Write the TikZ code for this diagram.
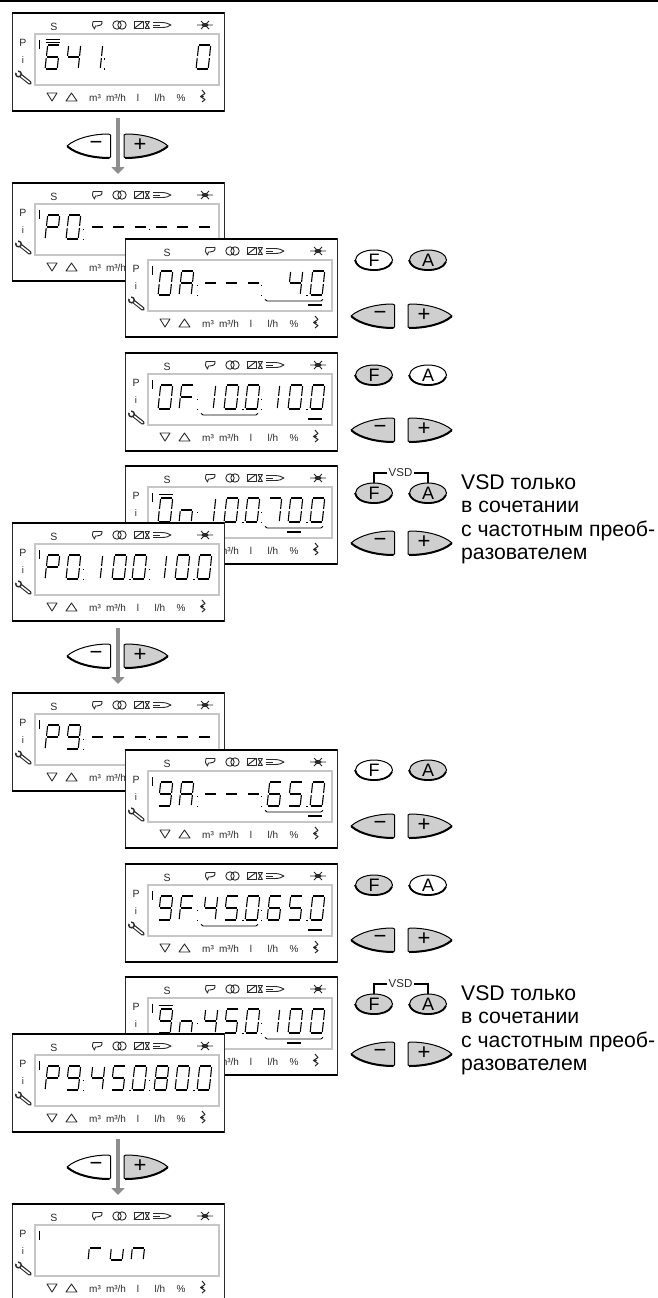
\documentclass[tikz,border=0pt]{standalone}
\usepackage{fontspec}
\setmainfont{Liberation Sans}
\usetikzlibrary{arrows.meta,shapes.geometric}
\definecolor{lcdgray}{HTML}{C6C6C6}
\definecolor{keygray}{HTML}{CFCFCF}
\definecolor{flowgray}{HTML}{8E8E8E}
\definecolor{ink}{HTML}{2A2A2A}
\tikzset{
  segline/.style={line width=1.1pt,line cap=butt,color=black},
  panelbody/.style={rectangle,fill=white,draw=none,inner sep=0pt,outer sep=0pt,minimum width=212pt,minimum height=100pt,anchor=north west},
  labelS/.style={inner sep=0pt,text=ink,font=\fontsize{10.5}{10.5}\selectfont},
  labelU/.style={inner sep=0pt,text=ink,font=\fontsize{10}{10}\selectfont},
  iconline/.style={line width=.9pt,color=ink,line join=round},
  flowarrow/.style={line width=4.5pt,color=flowgray,-{Triangle[length=7pt,width=13pt]},shorten <=6pt,shorten >=8pt},
  keyshape/.style={line width=1pt,color=black,line join=round},
  ovalkey/.style={ellipse,draw=black,line width=1pt,minimum width=37pt,minimum height=20pt,inner sep=0pt,font=\fontsize{18}{18}\selectfont},
  keysign/.style={inner sep=0pt,font=\fontsize{22}{22}\selectfont},
  sidenote/.style={inner sep=0pt,anchor=north west,align=left,font=\fontsize{21.2}{23.5}\selectfont},
}
\def\sgA{\draw[segline] (3,0)--(14,0);}
\def\sgB{\draw[segline] (14.6,1)--(13.6,11);}
\def\sgC{\draw[segline] (13.4,13)--(12.3,23);}
\def\sgD{\draw[segline] (1,24)--(12,24);}
\def\sgE{\draw[segline] (1.2,13)--(0.2,23);}
\def\sgF{\draw[segline] (2.6,1)--(1.5,11);}
\def\sgG{\draw[segline] (2,12)--(12.5,12);}
\expandafter\def\csname smap0\endcsname{A,B,C,D,E,F}
\expandafter\def\csname smap1\endcsname{B,C}
\expandafter\def\csname smap4\endcsname{B,C,F,G}
\expandafter\def\csname smap5\endcsname{A,C,D,F,G}
\expandafter\def\csname smap6\endcsname{A,C,D,E,F,G}
\expandafter\def\csname smap7\endcsname{A,B,C}
\expandafter\def\csname smap8\endcsname{A,B,C,D,E,F,G}
\expandafter\def\csname smap9\endcsname{A,B,C,D,F,G}
\expandafter\def\csname smapA\endcsname{A,B,C,E,F,G}
\expandafter\def\csname smapF\endcsname{A,E,F,G}
\expandafter\def\csname smapP\endcsname{A,B,E,F,G}
\expandafter\def\csname smapn\endcsname{C,E,G}
\expandafter\def\csname smapr\endcsname{E,G}
\expandafter\def\csname smapu\endcsname{C,D,E}
\expandafter\def\csname smap-\endcsname{G}
\newcommand\sdig[2]{\begin{scope}[shift={(#1,33)}]\edef\smaplist{\csname smap#2\endcsname}\foreach \segm in \smaplist {\csname sg\segm\endcsname}\end{scope}}
\newcommand\scol[1]{\fill (#1,46.5) rectangle ++(1.4,1.4); \fill (#1,56.5) rectangle ++(1.4,1.4);}
\newcommand\sdot[1]{\fill (#1,56.5) rectangle ++(1.6,1.6);}
\newcommand\sbar[2]{\draw[line width=1pt] (33.5,#2)--(48,#2);}
\newcommand\sulong[2]{\draw[line width=.9pt] (#1,61.3) .. controls (#1+.3,62.7) and (#1+1,63) .. (#1+2,63) -- (#2-2,63) .. controls (#2-1,63) and (#2-.3,62.7) .. (#2,61.3);}
\newcommand\sushort[1]{\draw[line width=1.1pt] (#1,67)--(#1+14,67);}
\newcommand\lcdpanel[4]{%
 \node[panelbody] (#1) at (#2,#3) {};
 \begin{scope}[shift={(#2,#3)}]
  \draw[line width=.8pt,color=ink] (0,0)--(0,100);
  \draw[line width=.8pt,color=ink] (212,0)--(212,100);
  \draw[line width=2pt] (-.4,1)--(212.4,1);
  \draw[line width=2pt] (-.4,99)--(212.4,99);
  \draw[color=lcdgray,line width=1.5pt] (23,22) rectangle (207,73);
  \node[labelS] (#1s) at (42,15) {S};
  \node[labelS] (#1p) at (11,31) {P};
  \node[labelS,font=\fontsize{9.5}{9.5}\selectfont] (#1i) at (11,48) {i};
  % burner
  \draw[iconline] (81,9.5) -- (90,9.5) .. controls (90.5,13) and (88,14) .. (85,14) -- (83.5,14) -- (82.5,17) .. controls (80,15) and (80,12) .. (81,9.5);
  % rings
  \draw[iconline] (105,13) circle (4.2); \draw[iconline] (110,13) circle (4.2);
  % damper
  \draw[iconline] (122,9.5) rectangle (131,16.5); \draw[iconline] (122,16.5)--(131,9.5);
  \draw[iconline] (133,9.5)--(137.5,9.5) (133,16.5)--(137.5,16.5) (133,9.5)--(137.5,16.5) (137.5,9.5)--(133,16.5);
  % flame
  \draw[iconline] (141,10.5) -- (150,10.5) .. controls (154,10.5) and (157,12) .. (159,13) .. controls (157,14.5) and (154,15.5) .. (150,15.5) -- (141,15.5);
  \draw[iconline] (141,13)--(148,13);
  % fan
  \draw[iconline] (185,13)--(201,13) (189,9)--(197,17) (197,9)--(189,17);
  \fill[ink] (193,13) ellipse (3.5 and 2);
  % wrench
  \draw[line width=3.8pt,color=ink,line cap=round] (8,63)--(18,71);
  \draw[line width=1.5pt,color=white,line cap=round] (9,64)--(17.5,70.6);
  \draw[line width=1.4pt,color=ink,fill=white] (6.5,62) circle (2.8);
  \fill[white] (2.5,60) -- (6.5,61.8) -- (5.5,57.8) -- cycle;
  % lower row
  \draw[iconline] (35,81)--(45,81)--(40,89)--cycle;
  \draw[iconline] (54,89)--(65,89)--(59.5,81)--cycle;
  \node[labelU] (#1ma) at (83,86) {m³};
  \node[labelU] (#1mb) at (104,86) {m³/h};
  \node[labelU] (#1ml) at (126,86) {l};
  \node[labelU] (#1mc) at (148,86) {l/h};
  \node[labelU] (#1md) at (169,86) {\%};
  \draw[iconline,line width=1pt] (190,78)--(193,81.5)--(188.5,84.5)--(193,87.5)--(190,90);
  \fill[ink] (190.7,84.5) circle (1.2);
  % tick
  \draw[line width=1pt] (27,28)--(27,37);
  #4
 \end{scope}}
\newcommand\ovalbtn[5]{\node[ovalkey,fill=#5] (#1) at (#2,#3) {#4};
 \draw[line width=1.8pt] (#1.180) .. controls (#2-17,#3+8) and (#2-8,#3+10) .. (#2,#3+10) .. controls (#2+8,#3+10) and (#2+15,#3+8) .. (#2+18,#3+2);}
\newcommand\minusbtn[4]{%
 \draw[keyshape,fill=#4] (#2,#3) .. controls (#2+9,#3-8) and (#2+26,#3-12) .. (#2+41.5,#3-12) -- (#2+43.5,#3-11) -- (#2+43.5,#3+11) -- (#2+41.5,#3+12) .. controls (#2+26,#3+12) and (#2+9,#3+8) .. (#2,#3) -- cycle;
 \draw[line width=2pt] (#2+.5,#3+.5) .. controls (#2+9,#3+8) and (#2+26,#3+12) .. (#2+42.5,#3+12);
 \node[keysign] (#1) at (#2+29,#3-.5) {−};}
\newcommand\plusbtn[4]{%
 \draw[keyshape,fill=#4] (#2+44,#3) .. controls (#2+35,#3-8) and (#2+18,#3-12) .. (#2+2,#3-12) -- (#2,#3-11) -- (#2,#3+11) -- (#2+2,#3+12) .. controls (#2+18,#3+12) and (#2+35,#3+8) .. (#2+44,#3) -- cycle;
 \draw[line width=2pt] (#2+43.5,#3+.5) .. controls (#2+35,#3+8) and (#2+18,#3+12) .. (#2+1,#3+12);
 \node[keysign] (#1) at (#2+16,#3-.5) {+};}
\newcommand\vsdlink[3]{%
 \node[inner sep=1pt,font=\fontsize{11.5}{12}\selectfont,text=ink] (#1v) at (400.5,#3-20) {VSD};
 \draw[line width=1.4pt] (#1.north) |- (#1v.west);
 \draw[line width=1.4pt] (#2.north) |- (#1v.east);}
\begin{document}
\begin{tikzpicture}[x=1pt,y=-1pt]
\useasboundingbox (0,0) rectangle (658,1298);
\fill[white] (0,0) rectangle (658,1298);
\clip (0,0) rectangle (658,1298);
\draw[line width=2pt] (0,1)--(658,1);

\lcdpanel{pa}{12}{12}{\sbar{33}{28}\sbar{33}{31}\sdig{33}{6}\sdig{54}{4}\sdig{76}{1}\scol{92}\sdig{184}{0}}
\lcdpanel{pb}{12}{182}{\sdig{33}{P}\sdig{54}{0}\scol{71}\sdig{78}{-}\sdig{99}{-}\sdig{121}{-}\scol{137}\sdig{142}{-}\sdig{163}{-}\sdig{185}{-}}
\lcdpanel{pc}{125}{238}{\sdig{33}{0}\sdig{54}{A}\scol{72}\sdig{78}{-}\sdig{99}{-}\sdig{121}{-}\scol{136}\sdig{163}{4}\sdot{181}\sdig{185}{0}\sulong{140}{198}\sushort{183}}
\lcdpanel{pd}{125}{352}{\sdig{33}{0}\sdig{54}{F}\scol{72}\sdig{76}{1}\sdig{99}{0}\sdot{117}\sdig{120}{0}\scol{136}\sdig{140}{1}\sdig{163}{0}\sdot{181}\sdig{185}{0}\sulong{76}{133}\sushort{183}}
\lcdpanel{pe}{125}{465}{\sbar{33}{29}\sdig{33}{0}\sdig{54}{n}\scol{72}\sdig{76}{1}\sdig{99}{0}\sdot{117}\sdig{120}{0}\scol{136}\sdig{142}{7}\sdig{163}{0}\sdot{181}\sdig{185}{0}\sulong{140}{198}\sushort{162}}
\lcdpanel{pf}{12}{522}{\sdig{33}{P}\sdig{54}{0}\scol{71}\sdig{76}{1}\sdig{100}{0}\sdot{117}\sdig{120}{0}\scol{137}\sdig{140}{1}\sdig{163}{0}\sdot{181}\sdig{185}{0}}
\lcdpanel{pg}{12}{692}{\sdig{33}{P}\sdig{54}{9}\scol{71}\sdig{78}{-}\sdig{99}{-}\sdig{121}{-}\scol{137}\sdig{142}{-}\sdig{163}{-}\sdig{185}{-}}
\lcdpanel{ph}{125}{749}{\sdig{33}{9}\sdig{54}{A}\scol{72}\sdig{78}{-}\sdig{99}{-}\sdig{121}{-}\scol{136}\sdig{142}{6}\sdig{163}{5}\sdot{181}\sdig{185}{0}\sulong{140}{198}\sushort{183}}
\lcdpanel{pi}{125}{863}{\sdig{33}{9}\sdig{54}{F}\scol{72}\sdig{78}{4}\sdig{99}{5}\sdot{117}\sdig{120}{0}\scol{136}\sdig{142}{6}\sdig{163}{5}\sdot{181}\sdig{185}{0}\sulong{76}{133}\sushort{183}}
\lcdpanel{pj}{125}{976}{\sbar{33}{29}\sdig{33}{9}\sdig{54}{n}\scol{72}\sdig{78}{4}\sdig{99}{5}\sdot{117}\sdig{120}{0}\scol{136}\sdig{140}{1}\sdig{163}{0}\sdig{185}{0}\sulong{140}{198}\sushort{162}}
\lcdpanel{pk}{12}{1033}{\sdig{33}{P}\sdig{54}{9}\scol{71}\sdig{78}{4}\sdig{99}{5}\sdot{117}\sdig{120}{0}\scol{137}\sdig{142}{8}\sdig{163}{0}\sdot{181}\sdig{185}{0}}
\lcdpanel{pl}{12}{1203}{\sdig{76}{r}\sdig{98}{u}\sdig{119}{n}}

% connectors
\draw[flowarrow] (pa.south) -- (pb.north);
\draw[flowarrow] (pf.south) -- (pg.north);
\draw[flowarrow] (pk.south) -- (pl.north);

% keys on the arrows
\minusbtn{ka}{67}{146}{white}\plusbtn{kb}{124}{146}{keygray}
\minusbtn{kc}{67}{656}{white}\plusbtn{kd}{124}{656}{keygray}
\minusbtn{ke}{67}{1167}{white}\plusbtn{kf}{124}{1167}{keygray}

% side keys, first group
\ovalbtn{fa}{374}{260}{F}{white}\ovalbtn{aa}{428}{260}{A}{keygray}
\minusbtn{kg}{351}{316}{keygray}\plusbtn{kh}{408}{316}{keygray}
\ovalbtn{fb}{374}{375}{F}{keygray}\ovalbtn{ab}{428}{375}{A}{white}
\minusbtn{ki}{351}{430}{keygray}\plusbtn{kj}{408}{430}{keygray}
\ovalbtn{fc}{374}{493}{F}{keygray}\ovalbtn{ac}{428}{493}{A}{keygray}
\vsdlink{fc}{ac}{493}
\minusbtn{kk}{351}{543}{keygray}\plusbtn{kl}{408}{543}{keygray}
\node[sidenote] (notea) at (461,474) {VSD только\\в сочетании\\с частотным преоб-\\разователем};

% side keys, second group
\ovalbtn{fd}{374}{770}{F}{white}\ovalbtn{ad}{428}{770}{A}{keygray}
\minusbtn{km}{351}{826}{keygray}\plusbtn{kn}{408}{826}{keygray}
\ovalbtn{fe}{374}{885}{F}{keygray}\ovalbtn{ae}{428}{885}{A}{white}
\minusbtn{ko}{351}{940}{keygray}\plusbtn{kp}{408}{940}{keygray}
\ovalbtn{ff}{374}{1004}{F}{keygray}\ovalbtn{af}{428}{1004}{A}{keygray}
\vsdlink{ff}{af}{1004}
\minusbtn{kq}{351}{1054}{keygray}\plusbtn{kr}{408}{1054}{keygray}
\node[sidenote] (noteb) at (461,985) {VSD только\\в сочетании\\с частотным преоб-\\разователем};
\end{tikzpicture}
\end{document}
